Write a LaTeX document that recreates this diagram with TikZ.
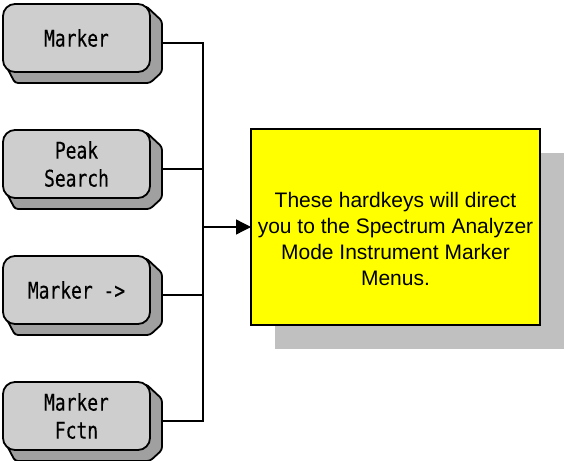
\documentclass[tikz,border=0pt]{standalone}
\usepackage{fontspec}
\setmainfont{Liberation Sans}
\newfontfamily\keyfont[FakeStretch=0.78,FakeBold=0.3]{DejaVu Sans Mono}
\usepackage{tikz}
\usetikzlibrary{positioning,arrows.meta,backgrounds}
\definecolor{keyface}{HTML}{CECECE}
\definecolor{keyside}{HTML}{A0A0A0}
\definecolor{msgshadow}{HTML}{C0C0C0}
\definecolor{msgfill}{HTML}{FFFF00}

\begin{document}
\begin{tikzpicture}[
  x=1pt,y=1pt,
  node distance=58pt,
  hardkey/.style={draw,line width=1.8pt,rounded corners=12pt,fill=keyface,minimum width=147pt,minimum height=68pt,outer sep=0pt,align=center,font=\keyfont\fontsize{23}{28}\selectfont},
  keyside/.style={draw,line width=1.8pt,fill=keyside,rounded corners=3pt},
  msgbox/.style={draw,line width=1.4pt,fill=msgfill,minimum width=289pt,minimum height=196pt,outer sep=0pt},
  wire/.style={line width=1.3pt},
  >={Triangle[length=15pt,width=15pt]}
]
\useasboundingbox (0,0) rectangle (566,-461);
% --- hardkeys ---
\node[hardkey,anchor=north west] (key1) at (3,-4) {Marker};
\node[hardkey,below=of key1] (key2) {Peak\\Search};
\node[hardkey,below=of key2] (key3) {Marker ->};
\node[hardkey,below=of key3] (key4) {Marker\\Fctn};
% key sides and tabs for the wires
\begin{scope}[on background layer]
\foreach \k in {key1,key2,key3,key4}{
  \draw[keyside] ([shift={(-4pt,-2pt)}]\k.north east) -- ([shift={(12pt,-17pt)}]\k.north east)
    -- ([xshift=12pt]\k.south east) -- ([yshift=-11pt]\k.south east)
    -- ([shift={(12pt,-11pt)}]\k.south west) -- ([yshift=12pt]\k.south west) -- cycle;
  \coordinate (\k-tab) at ([shift={(12pt,-5pt)}]\k.east);
}
\end{scope}
% --- message box ---
\node[msgbox,anchor=north west] (msg) at (251,-129) {};
\begin{scope}[on background layer]
\fill[msgshadow] ([shift={(24pt,-24pt)}]msg.north west) rectangle ([shift={(24pt,-24pt)}]msg.south east);
\end{scope}
\node[align=center,font=\fontsize{21}{26}\selectfont] (msgtext) at ([yshift=-12pt]msg.center)
  {These hardkeys will direct\\you to the Spectrum Analyzer\\Mode Instrument Marker\\Menus.};
% --- wires ---
\coordinate (bus) at ([xshift=-48pt]msg.west);
\draw[wire] (key1-tab) -- (key1-tab -| bus) -- (key4-tab -| bus) -- (key4-tab);
\foreach \k in {key2,key3}{\draw[wire] (\k-tab) -- (\k-tab -| bus);}
\draw[wire,->] (bus) -- (msg.west);
\end{tikzpicture}
\end{document}
